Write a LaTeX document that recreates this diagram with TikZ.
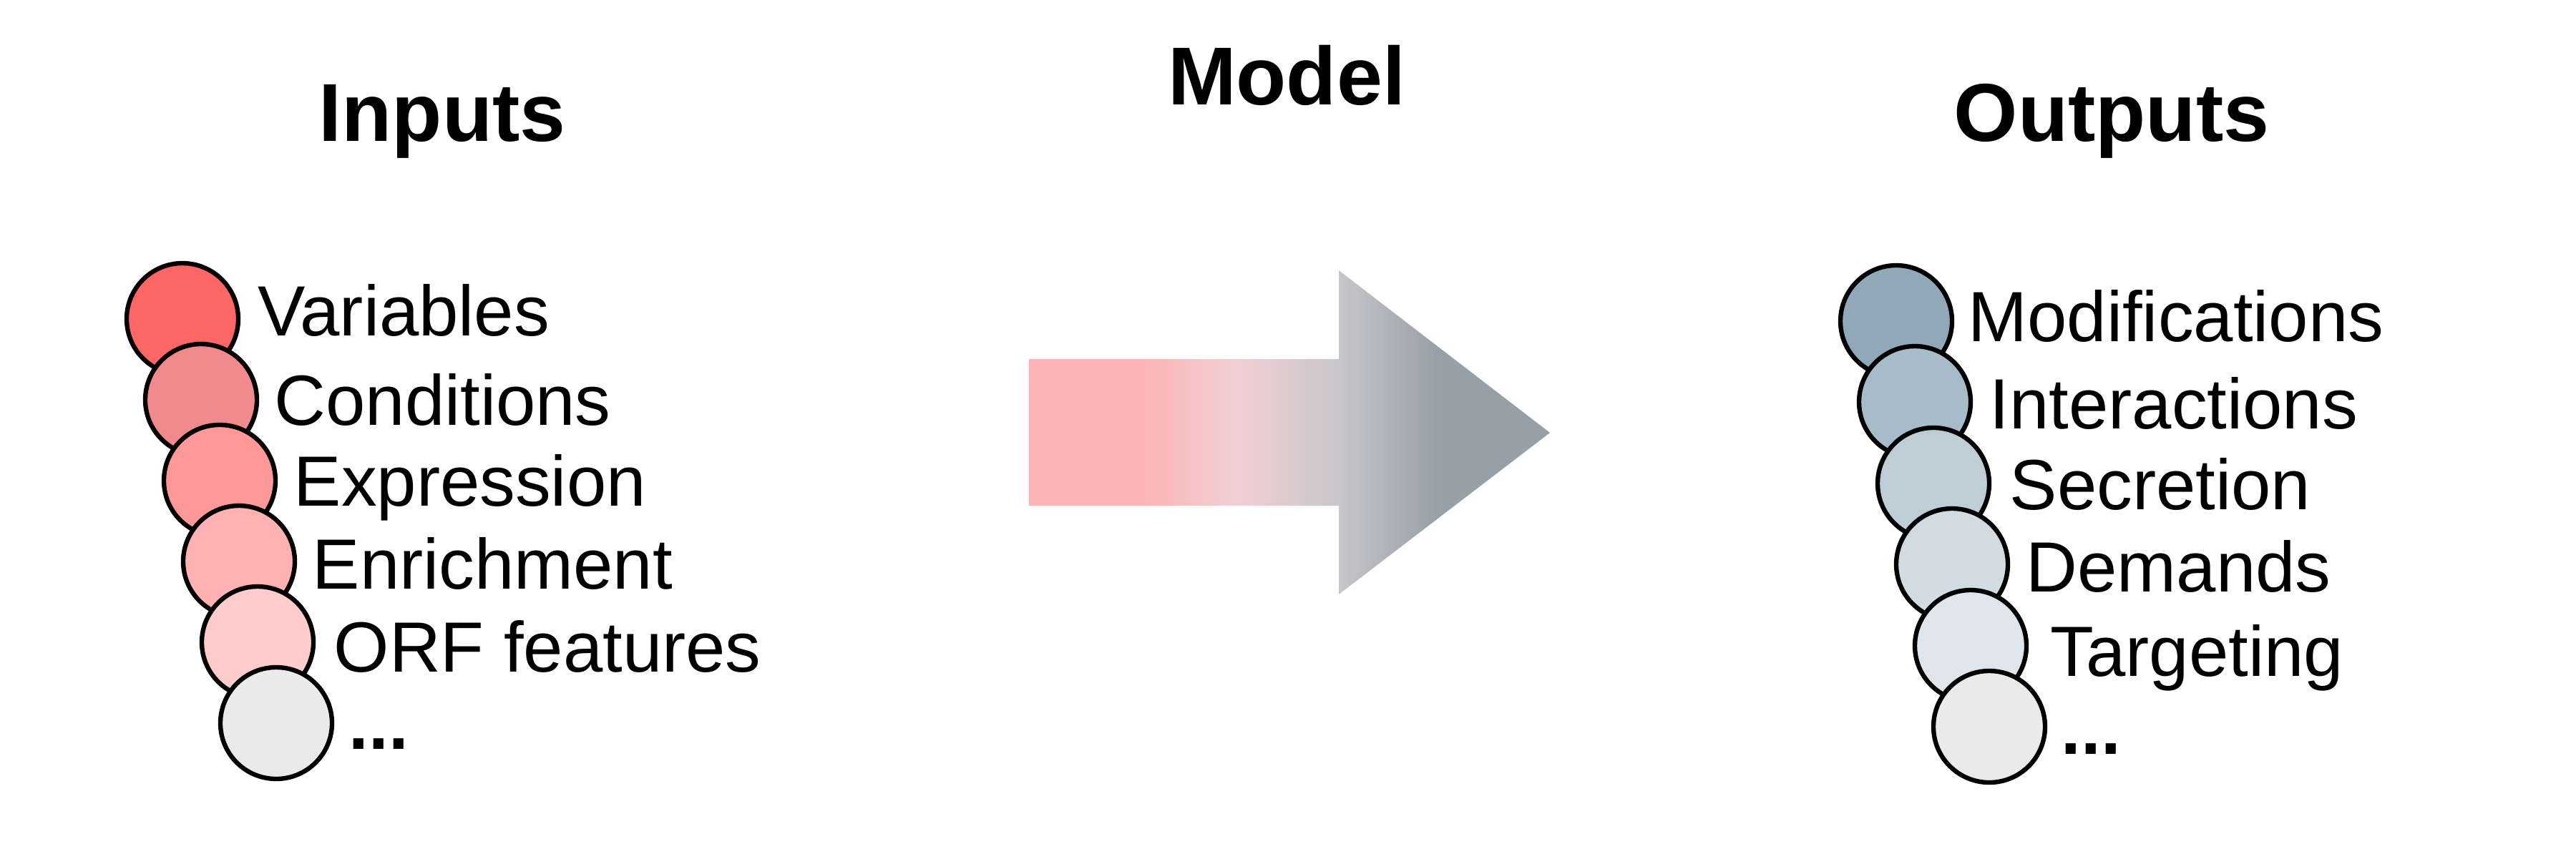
\documentclass[tikz,border=0pt]{standalone}
\usepackage{fontspec}
\setmainfont{Liberation Sans}
\usepackage{tikz}
\usetikzlibrary{calc}
\usetikzlibrary{positioning}

\definecolor{inA}{RGB}{255,102,102}
\definecolor{inB}{RGB}{240,138,140}
\definecolor{inC}{RGB}{255,153,153}
\definecolor{inD}{RGB}{255,178,178}
\definecolor{inE}{RGB}{255,204,204}
\definecolor{outA}{RGB}{145,168,184}
\definecolor{outB}{RGB}{168,187,201}
\definecolor{outC}{RGB}{191,205,215}
\definecolor{outD}{RGB}{208,219,226}
\definecolor{outE}{RGB}{222,230,235}
\definecolor{restgray}{RGB}{234,234,234}
\definecolor{arrowpink}{RGB}{252,179,181}
\definecolor{arrowmid}{RGB}{240,208,211}
\definecolor{arrowgray}{RGB}{200,198,202}
\definecolor{arrowdark}{RGB}{150,160,168}

\pgfdeclarehorizontalshading{modelarrow}{100bp}{color(0bp)=(arrowpink); color(35.8bp)=(arrowpink); color(44.9bp)=(arrowmid); color(54.7bp)=(arrowgray); color(64.3bp)=(arrowdark); color(100bp)=(arrowdark)}

\begin{document}
\begin{tikzpicture}[ball/.style={circle,draw=black,line width=1.8pt,minimum size=1.56cm,inner sep=0pt},
        itemlabel/.style={anchor=base west,inner sep=0pt,font=\fontsize{28.3}{33}\selectfont},
        heading/.style={anchor=base,inner sep=0pt,font=\fontsize{32.7}{39}\selectfont\bfseries}]
        \useasboundingbox (0,0) rectangle (36,-12);

        \node[heading] (hin) at (6.18,-1.97) {Inputs};
        \node[heading] (hmodel) at (17.98,-1.46) {Model};
        \node[heading] (hout) at (29.51,-1.97) {Outputs};

        % inputs
        \node[ball,fill=inA] (i1) at (2.55,-4.46) {};
        \node[ball,fill=inB] (i2) at (2.81,-5.59) {};
        \node[ball,fill=inC] (i3) at (3.07,-6.72) {};
        \node[ball,fill=inD] (i4) at (3.34,-7.85) {};
        \node[ball,fill=inE] (i5) at (3.60,-8.98) {};
        \node[ball,fill=restgray] (i6) at (3.86,-10.11) {};
        \node[itemlabel] (li1) at (3.60,-4.695) {Variables};
        \node[itemlabel] (li2) at (3.83,-5.94) {Conditions};
        \node[itemlabel] (li3) at (4.10,-7.07) {Expression};
        \node[itemlabel] (li4) at (4.36,-8.23) {Enrichment};
        \node[itemlabel] (li5) at (4.66,-9.39) {ORF features};
        \node[itemlabel,font=\fontsize{28.3}{33}\selectfont\bfseries] (li6) at (4.87,-10.47) {...};

        % model arrow
        \shade[shading=modelarrow] (14.38,-5.02) -- (18.71,-5.02) -- (18.71,-3.78) -- (21.66,-6.05)
            -- (18.71,-8.31) -- (18.71,-7.07) -- (14.38,-7.07) -- cycle;

        % outputs
        \node[ball,fill=outA] (o1) at (26.50,-4.49) {};
        \node[ball,fill=outB] (o2) at (26.76,-5.62) {};
        \node[ball,fill=outC] (o3) at (27.02,-6.76) {};
        \node[ball,fill=outD] (o4) at (27.28,-7.89) {};
        \node[ball,fill=outE] (o5) at (27.54,-9.03) {};
        \node[ball,fill=restgray] (o6) at (27.80,-10.16) {};
        \node[itemlabel] (lo1) at (27.50,-4.77) {Modifications};
        \node[itemlabel] (lo2) at (27.80,-5.99) {Interactions};
        \node[itemlabel] (lo3) at (28.08,-7.12) {Secretion};
        \node[itemlabel] (lo4) at (28.31,-8.27) {Demands};
        \node[itemlabel] (lo5) at (28.65,-9.45) {Targeting};
        \node[itemlabel,font=\fontsize{28.3}{33}\selectfont\bfseries] (lo6) at (28.80,-10.54) {...};
    \end{tikzpicture}
\end{document}
